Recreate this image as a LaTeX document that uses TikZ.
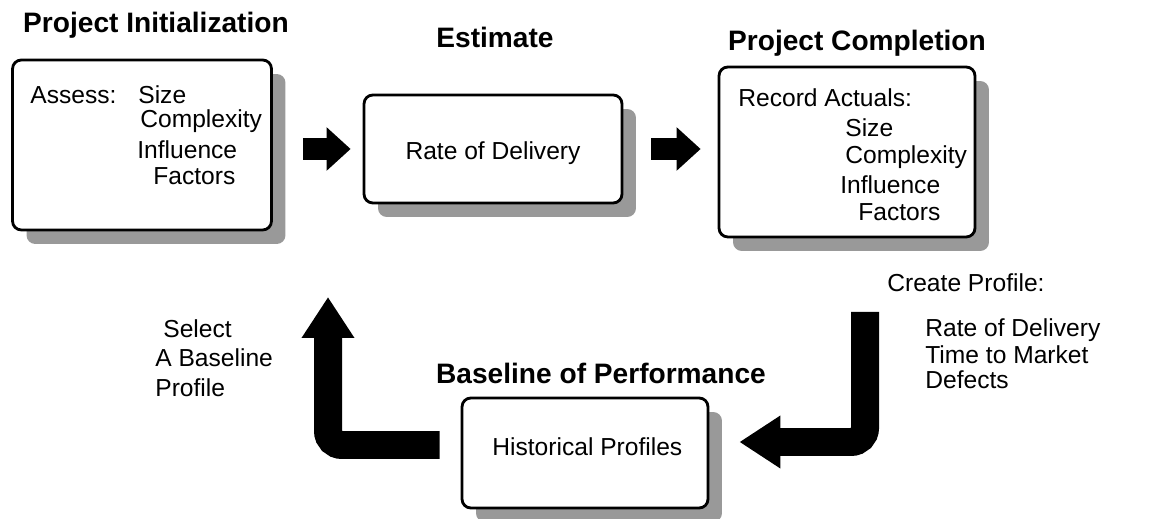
\documentclass[tikz,border=0pt]{standalone}
\usepackage{fontspec}
\setmainfont{Liberation Sans}
\usetikzlibrary{arrows.meta,shadows}

\begin{document}
\begin{tikzpicture}[x=0.02cm, y=-0.02cm,
		box/.style={draw, line width=1.6pt, rounded corners=5pt, fill=white,
			drop shadow={shadow xshift=0.28cm, shadow yshift=-0.28cm, fill=black!40, opacity=1}},
		title/.style={font=\bfseries\fontsize{16}{18}\selectfont},
		txt/.style={font=\fontsize{14}{16}\selectfont, anchor=west, inner sep=0pt},
		fat/.style={line width=0.44cm, -{Triangle[width=0.84cm, length=0.48cm]}},
		bent/.style={line width=0.56cm, rounded corners=0.28cm, -{Triangle[width=1.0cm, length=0.82cm]}}]
		\useasboundingbox (0,0) rectangle (1166,519);

		\node (1)[box, minimum width=5.18cm, minimum height=3.4cm] at (142,145) {};
		\node (2)[box, minimum width=5.16cm, minimum height=2.16cm] at (493,149) {};
		\node (3)[box, minimum width=5.12cm, minimum height=3.4cm] at (847,152) {};
		\node (4)[box, minimum width=4.92cm, minimum height=2.2cm] at (585,453) {};

		\node (h1)[title] at (156,25) {Project Initialization};
		\node (h2)[title] at (495,37) {Estimate};
		\node (h3)[title] at (857,43) {Project Completion};
		\node (h4)[title] at (601,373) {Baseline of Performance};

		\node (a1)[txt] at (30,95) {Assess:};
		\node (a2)[txt] at (138,95) {Size};
		\node (a3)[txt] at (140,121) {Complexity};
		\node (a4)[txt] at (137,150) {Influence};
		\node (a5)[txt] at (153,176) {Factors};

		\node (r1)[txt, anchor=center] at (493,153) {Rate of Delivery};

		\node (b1)[txt] at (738,98) {Record Actuals:};
		\node (b2)[txt] at (845,128) {Size};
		\node (b3)[txt] at (845,157) {Complexity};
		\node (b4)[txt] at (840,185) {Influence};
		\node (b5)[txt] at (858,212) {Factors};

		\node (r2)[txt] at (492,447) {Historical Profiles};

		\node (s1)[txt] at (163,329) {Select};
		\node (s2)[txt] at (155,358) {A Baseline};
		\node (s3)[txt] at (155,388) {Profile};

		\node (c1)[txt] at (887,283) {Create Profile:};
		\node (c2)[txt] at (925,330) {Rate of Delivery};
		\node (c3)[txt] at (925,355) {Time to Market};
		\node (c4)[txt] at (925,380) {Defects};

		\coordinate (p1) at (865,312);
		\coordinate (p2) at (328,297);

		\draw [fat, shorten <=0.6cm, shorten >=0.24cm](1.east |- 2.west) to (2.west);
		\draw [fat, shorten <=0.56cm, shorten >=0.34cm](2.east) to (3.west |- 2.east);

		% loop back through the baseline
		\draw [bent, shorten >=0.6cm](p1) |- ([yshift=0.22cm]4.east);
		\draw [bent, shorten <=0.42cm]([yshift=0.16cm]4.west) -| (p2);
	\end{tikzpicture}
\end{document}
